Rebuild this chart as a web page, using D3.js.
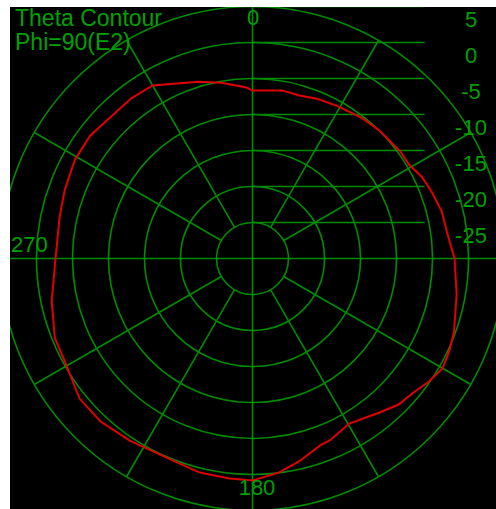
<!DOCTYPE html>
<meta charset="utf-8">
<style>
body { margin: 0; background: #fff; }
text { font-family: "Liberation Sans", Arial, sans-serif; fill: #00a000; }
.grid { fill: none; stroke: #008c00; stroke-width: 1.6px; }
.trace { fill: none; stroke: #e00000; stroke-width: 2px; }
</style>
<body>
<script src="https://d3js.org/d3.v7.min.js"></script>
<script>

// measured pattern (angle in degrees, gain in dB)
var angles = [0, 10, 16, 22, 29, 38, 45, 54, 59, 64.5, 70, 76, 83, 90, 100, 110, 115, 120, 125, 130, 135, 140.5,
              149.6, 157, 160, 167, 173, 180, 186, 194, 200, 214, 223, 231, 241.5, 248, 258, 270, 282, 290, 299,
              307, 313, 323, 330, 343, 350, 358];
var gain = [-6.67, -6.29, -6.44, -6.07, -5.76, -5.27, -4.96, -4.67, -4.65, -3.85, -3.42, -2.92, -2.70, -1.94, -1.21,
            -0.22, 0.19, 0.49, -0.14, -0.93, -1.32, -2.28, -3.42, -2.55, -2.41, -1.11, -0.04, 0.83, 0.72, 0.62, 0.22,
            0.51, 0.95, 0.91, -0.29, -0.39, -1.49, -2.64, -2.60, -2.24, -1.78, -1.72, -2.10, -2.11, -2.25, -4.33,
            -5.20, -6.24];
var ringLabels = [5, 0, -5, -10, -15, -20, -25];
var ringValues = [-25, -20, -15, -10, -5, 0, 5];
var spokes = [30, 60, 120, 150, 210, 240, 300, 330];
var angleLabels = ["0", "270", "180"];

var W = 496, H = 509;
var cx = 252.5, cy = 258.5;

var r = d3.scaleLinear().domain([-30, 5]).range([0, 252]);
var a = d3.scaleLinear().domain([0, 360]).range([0, 2 * Math.PI]);

var svg = d3.select("body").append("svg")
    .attr("width", W)
    .attr("height", H);

svg.append("clipPath").attr("id", "box")
  .append("rect")
    .attr("x", 10).attr("y", 7)
    .attr("width", W - 10).attr("height", H - 7);

svg.append("rect")
    .attr("x", 10).attr("y", 7)
    .attr("width", W - 10).attr("height", H - 7)
    .attr("fill", "#000");

var g = svg.append("g").attr("clip-path", "url(#box)")
  .append("g")
    .attr("transform", "translate(" + cx + "," + cy + ")");

// rings
g.selectAll(".ring").data(ringValues).enter().append("circle")
    .attr("class", "grid")
    .attr("r", function(d) { return r(d); });

// horizontal reference lines for the dB scale
g.selectAll(".hline").data(ringValues).enter().append("line")
    .attr("class", "grid")
    .attr("x1", 0).attr("x2", 172)
    .attr("y1", function(d) { return -r(d); })
    .attr("y2", function(d) { return -r(d); });

// axes through the centre
g.append("line").attr("class", "grid")
    .attr("x1", 0).attr("x2", 0).attr("y1", -r(5)).attr("y2", r(5));
g.append("line").attr("class", "grid")
    .attr("x1", -r(5)).attr("x2", r(5)).attr("y1", 0).attr("y2", 0);

// spokes
g.selectAll(".spoke").data(spokes).enter().append("line")
    .attr("class", "grid")
    .attr("x1", function(d) { return r(-25) * Math.sin(a(d)); })
    .attr("y1", function(d) { return -r(-25) * Math.cos(a(d)); })
    .attr("x2", function(d) { return r(5) * Math.sin(a(d)); })
    .attr("y2", function(d) { return -r(5) * Math.cos(a(d)); });

// pattern
var pts = angles.map(function(d, i) { return [a(d), r(gain[i])]; });
g.append("path")
    .datum(pts)
    .attr("class", "trace")
    .attr("d", d3.lineRadial().curve(d3.curveLinearClosed));

// dB labels on the right
svg.selectAll(".rl").data(ringLabels).enter().append("text")
    .attr("x", 471)
    .attr("y", function(d) { return cy - r(d) + 20; })
    .attr("text-anchor", "middle")
    .style("font-size", "22px")
    .text(function(d) { return d; });

// angle labels
svg.append("text").attr("x", 253).attr("y", 25).attr("text-anchor", "middle")
    .style("font-size", "22px").text(angleLabels[0]);
svg.append("text").attr("x", 11).attr("y", 252)
    .style("font-size", "22px").text(angleLabels[1]);
svg.append("text").attr("x", 257).attr("y", 495).attr("text-anchor", "middle")
    .style("font-size", "22px").text(angleLabels[2]);

// title
svg.append("text").attr("x", 15).attr("y", 26)
    .style("font-size", "23px").text("Theta Contour");
svg.append("text").attr("x", 15).attr("y", 50)
    .style("font-size", "23px").text("Phi=90(E2)");

</script>
</body>
